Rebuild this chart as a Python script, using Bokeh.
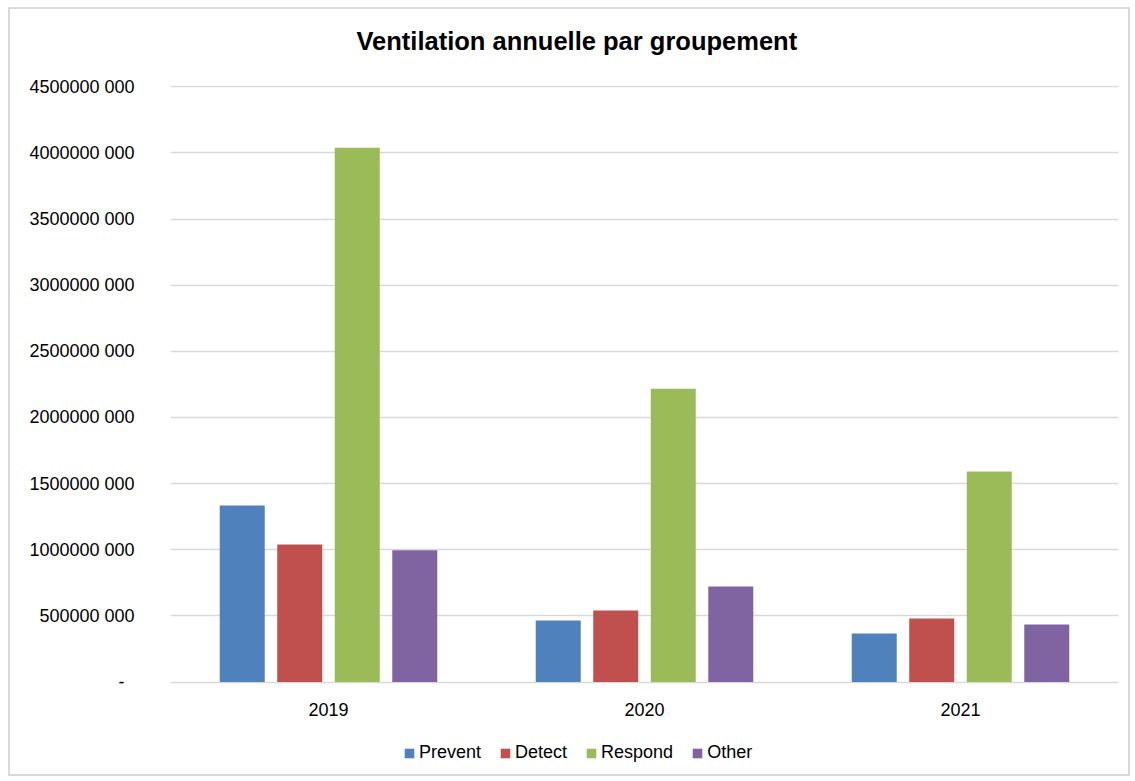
from bokeh.plotting import figure
from bokeh.models import (ColumnDataSource, FactorRange, Range1d, FixedTicker,
                          Legend, LegendItem)
from bokeh.core.properties import value
from bokeh.transform import dodge
from bokeh.embed import file_html
from bokeh.resources import INLINE

# ---- data ----
years = ["2019", "2020", "2021"]
series_names = ["Prevent", "Detect", "Respond", "Other"]
prevent = [1334e6, 465e6, 367e6]
detect = [1039e6, 540e6, 480e6]
respond = [4040e6, 2218e6, 1591e6]
other = [997e6, 722e6, 435e6]
y_ticks = [0, 500000000, 1000000000, 1500000000, 2000000000,
           2500000000, 3000000000, 3500000000, 4000000000, 4500000000]
y_tick_labels = ["-\u00a0\u00a0", "500000 000", "1000000 000", "1500000 000", "2000000 000",
                 "2500000 000", "3000000 000", "3500000 000", "4000000 000", "4500000 000"]
title_text = "Ventilation annuelle par groupement"

# ---- style / layout ----
colors = ["#4f81bd", "#c0504d", "#9bbb59", "#8064a2"]
FONT = "Liberation Sans"
GRID = "#d9d9d9"
W, H = 1122, 769
TOP, LEFT, RIGHT = 76, 160, 14
PLOT_PX = 596.5          # pixels from frame top to value 0
FRAME_PX = H - TOP       # frame extends to canvas bottom (legend lives inside)
Y_END = 4.51e9
px_per_unit = PLOT_PX / Y_END
Y_START = Y_END - FRAME_PX / px_per_unit
label_offset_px = 27.5   # category labels below the zero line

source = ColumnDataSource(dict(years=years, Prevent=prevent, Detect=detect,
                               Respond=respond, Other=other))

p = figure(x_range=FactorRange(*years), y_range=Range1d(Y_START, Y_END),
           width=W, height=H, output_backend="svg", toolbar_location=None,
           min_border_left=LEFT, min_border_right=RIGHT, min_border_top=TOP,
           min_border_bottom=0)
p.styles = {"border": "2px solid #d9d9d9", "margin": "7px 0px 0px 8px"}
p.outline_line_color = None
p.background_fill_color = "white"
p.border_fill_color = "white"

pitch = 0.182
bar_w = 0.1424
renderers = []
for i, name in enumerate(series_names):
    r = p.vbar(x=dodge("years", (i - 1.5) * pitch, range=p.x_range), top=name,
               bottom=0, width=bar_w, source=source, fill_color=colors[i], line_color=None)
    renderers.append(r)

# y axis
p.yaxis.ticker = FixedTicker(ticks=y_ticks)
p.yaxis.major_label_overrides = {t: l for t, l in zip(y_ticks, y_tick_labels)}
p.yaxis.axis_line_color = None
p.yaxis.major_tick_line_color = None
p.yaxis.minor_tick_line_color = None
p.yaxis.major_label_standoff = 30
p.yaxis.major_label_text_font = FONT
p.yaxis.major_label_text_font_size = "18px"
p.yaxis.major_label_text_color = "black"

# x axis: category labels drawn just under the zero line
p.xaxis.visible = False
p.text(x=years, y=[-label_offset_px / px_per_unit] * len(years), text=years,
       text_align="center", text_baseline="middle", text_font=value(FONT),
       text_font_size="18px", text_color="black")

p.xgrid.grid_line_color = None
p.ygrid.ticker = FixedTicker(ticks=y_ticks)
p.ygrid.grid_line_color = GRID
p.ygrid.grid_line_width = 1.5

# title (trailing empty line lifts it above the frame)
p.title.text = title_text + "\n"
p.title.align = "left"
p.title.offset = 186
p.title.text_font = FONT
p.title.text_font_size = "25.5px"
p.title.text_font_style = "bold"
p.title.text_color = "black"
p.title.vertical_align = "bottom"
p.title.standoff = 5

# legend
legend = Legend(items=[LegendItem(label=n, renderers=[r]) for n, r in zip(series_names, renderers)],
                orientation="horizontal", location=(233, 15),
                border_line_color=None, background_fill_alpha=0,
                glyph_width=12, glyph_height=12, label_standoff=4, spacing=18,
                padding=0, margin=0, label_text_font=FONT,
                label_text_font_size="18px", label_text_color="black")
p.add_layout(legend, "center")

open("out.html", "w").write(file_html(p, INLINE))
